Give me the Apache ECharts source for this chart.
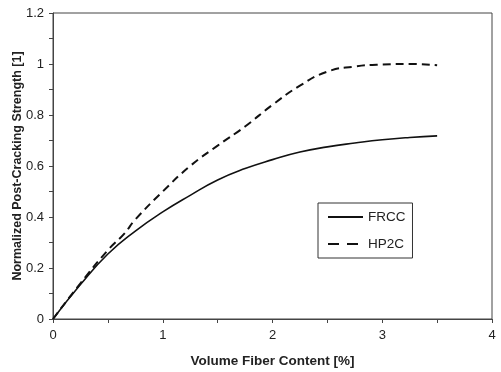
<!DOCTYPE html>
<html>
<head>
<meta charset="utf-8">
<script src="https://cdn.jsdelivr.net/npm/echarts@6/dist/echarts.min.js"></script>
<style>
  html, body { margin: 0; padding: 0; background: #fff; }
  #chart { width: 501px; height: 372px; }
</style>
</head>
<body>
<div id="chart"></div>
<script>
// curves: [fiber content %, normalized strength]
var frccX = [0, 0.25, 0.5, 0.75, 1, 1.25, 1.5, 1.75, 2, 2.25, 2.5, 2.75, 3, 3.25, 3.5];
var frccY = [0, 0.135, 0.255, 0.345, 0.42, 0.485, 0.545, 0.59, 0.625, 0.655, 0.675, 0.69, 0.703, 0.712, 0.718];
var hp2cX = [0, 0.25, 0.5, 0.65, 0.75, 1, 1.25, 1.5, 1.75, 2, 2.25, 2.5, 2.75, 3, 3.25, 3.5];
var hp2cY = [0, 0.14, 0.27, 0.335, 0.39, 0.5, 0.6, 0.68, 0.755, 0.84, 0.915, 0.97, 0.99, 0.998, 1.0, 0.995];
var seriesNames = ['FRCC', 'HP2C'];

function pairs(xs, ys) {
    var out = [];
    for (var i = 0; i < xs.length; i++) out.push([xs[i], ys[i]]);
    return out;
}

var font = 'Liberation Sans, Arial, sans-serif';
var ink = '#222';

var myChart = echarts.init(document.getElementById('chart'));
var option = {
    animation: false,
    backgroundColor: '#fff',
    grid: {
        left: 53, right: 9, top: 13, bottom: 53,
        containLabel: false, outerBoundsMode: 'none',
        show: true, borderColor: '#444', borderWidth: 1
    },
    legend: {
        orient: 'vertical',
        left: 318, top: 203,
        padding: [7, 7, 7, 9],
        borderColor: '#333', borderWidth: 1,
        itemWidth: 35, itemHeight: 14, itemGap: 13,
        // hide the marker dot, keep only the line sample
        itemStyle: { color: 'transparent', borderWidth: 0 },
        textStyle: { fontFamily: font, fontSize: 13.5, color: ink },
        data: [
            { name: seriesNames[0] },
            { name: seriesNames[1], lineStyle: { type: [11, 8], width: 1.8 } }
        ]
    },
    xAxis: {
        type: 'value', min: 0, max: 4, interval: 1,
        name: 'Volume Fiber Content [%]',
        nameLocation: 'middle', nameGap: 35, nameMoveOverlap: false,
        nameTextStyle: { fontFamily: font, fontSize: 13.5, fontWeight: 'bold', color: ink },
        axisLine: { lineStyle: { color: '#444' } },
        axisTick: { show: true, length: 4, lineStyle: { color: '#444' } },
        minorTick: { show: true, splitNumber: 2, length: 4, lineStyle: { color: '#444' } },
        axisLabel: { fontFamily: font, fontSize: 13, color: ink, margin: 10 },
        splitLine: { show: false }
    },
    yAxis: {
        type: 'value', min: 0, max: 1.2, interval: 0.2,
        name: 'Normalized Post-Cracking Strength [1]',
        nameLocation: 'middle', nameGap: 29, nameMoveOverlap: false,
        nameTextStyle: { fontFamily: font, fontSize: 12.5, fontWeight: 'bold', color: ink },
        axisLine: { show: true, lineStyle: { color: '#444' } },
        axisTick: { show: true, length: 4, lineStyle: { color: '#444' } },
        minorTick: { show: true, splitNumber: 2, length: 4, lineStyle: { color: '#444' } },
        axisLabel: { fontFamily: font, fontSize: 13, color: ink, margin: 9 },
        splitLine: { show: false }
    },
    series: [
        {
            name: seriesNames[0], type: 'line', smooth: true, symbol: 'none',
            lineStyle: { color: '#111', width: 1.6, type: 'solid' },
            itemStyle: { color: '#111' },
            data: pairs(frccX, frccY)
        },
        {
            name: seriesNames[1], type: 'line', smooth: true, symbol: 'none',
            lineStyle: { color: '#111', width: 2, type: [8, 5] },
            itemStyle: { color: '#111' },
            data: pairs(hp2cX, hp2cY)
        }
    ]
};
myChart.setOption(option);
</script>
</body>
</html>
